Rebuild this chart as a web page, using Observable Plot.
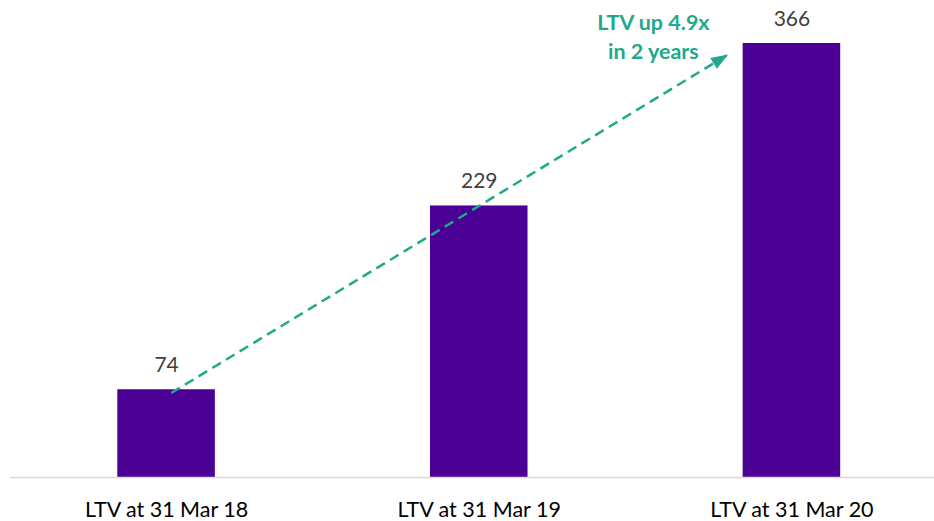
<!DOCTYPE html>
<html>
<head>
<meta charset="utf-8">
<script src="https://cdn.jsdelivr.net/npm/d3@7"></script>
<script src="https://cdn.jsdelivr.net/npm/@observablehq/plot@0.6"></script>
<style>
  html, body { margin: 0; padding: 0; background: #fff; }
  #chart svg { display: block; }
</style>
</head>
<body>
<div id="chart"></div>
<script>
// Data
const categories = ["LTV at 31 Mar 18", "LTV at 31 Mar 19", "LTV at 31 Mar 20"];
const values = [74, 229, 366];
const annotationLines = ["LTV up 4.9x", "in 2 years"];
// arrow endpoints in data units (index, value)
const arrowStart = [0.015, 71.3];
const arrowEnd = [1.796, 356.7];
// annotation anchor in data units (index, value of last line baseline)
const annotationAt = [1.557, 353];

const rows = categories.map((c, i) => ({i, c, v: values[i]}));

const FONT = "Lato, 'Open Sans', sans-serif";
const PURPLE = "#4B0096";
const GREEN = "#20A98B";
const halfBar = 0.156;

const triangleMarker = (color, context) => {
  const m = d3.create("svg:marker")
    .attr("viewBox", "-18 -7 19 14")
    .attr("markerWidth", 19)
    .attr("markerHeight", 14)
    .attr("markerUnits", "userSpaceOnUse")
    .attr("refX", 0)
    .attr("refY", 0)
    .attr("orient", "auto");
  m.append("path").attr("d", "M-17,-6.4L0,0L-17,6.4Z").attr("fill", color).attr("stroke", "none");
  return m.node();
};

const chart = Plot.plot({
  width: 934,
  height: 521,
  marginLeft: 10,
  marginRight: 0,
  marginTop: 43,
  marginBottom: 44,
  style: {fontFamily: FONT, background: "#fff", overflow: "visible"},
  x: {domain: [-0.5, 2.5], range: [9.75, 947.75], axis: null, label: null},
  y: {domain: [0, 366], axis: null, label: null},
  marks: [
    Plot.rectY(rows, {x1: d => d.i - halfBar, x2: d => d.i + halfBar, y1: 0, y2: "v", fill: PURPLE}),
    Plot.ruleY([0], {stroke: "#d9d9d9", strokeWidth: 1.5}),
    Plot.text(rows, {x: "i", y: "v", text: d => String(d.v), dy: -18, lineAnchor: "bottom", fontSize: 21, fill: "#404040"}),
    Plot.axisX({ticks: [0, 1, 2], tickFormat: i => categories[i], tickSize: 0, tickPadding: 24.5, fontSize: 21.5, label: null, fill: "#000", color: "#1a1a1a"}),
    Plot.link([0], {
      x1: () => arrowStart[0], y1: () => arrowStart[1],
      x2: () => arrowEnd[0], y2: () => arrowEnd[1],
      stroke: GREEN, strokeWidth: 2.5, strokeDasharray: "10,6",
      markerEnd: triangleMarker
    }),
    Plot.text([annotationLines.join("\n")], {
      x: () => annotationAt[0], y: () => annotationAt[1],
      text: d => d, lineAnchor: "bottom", lineHeight: 1.33,
      fontSize: 21.5, fontWeight: "bold", fill: GREEN
    })
  ]
});
document.getElementById("chart").appendChild(chart);
</script>
</body>
</html>
